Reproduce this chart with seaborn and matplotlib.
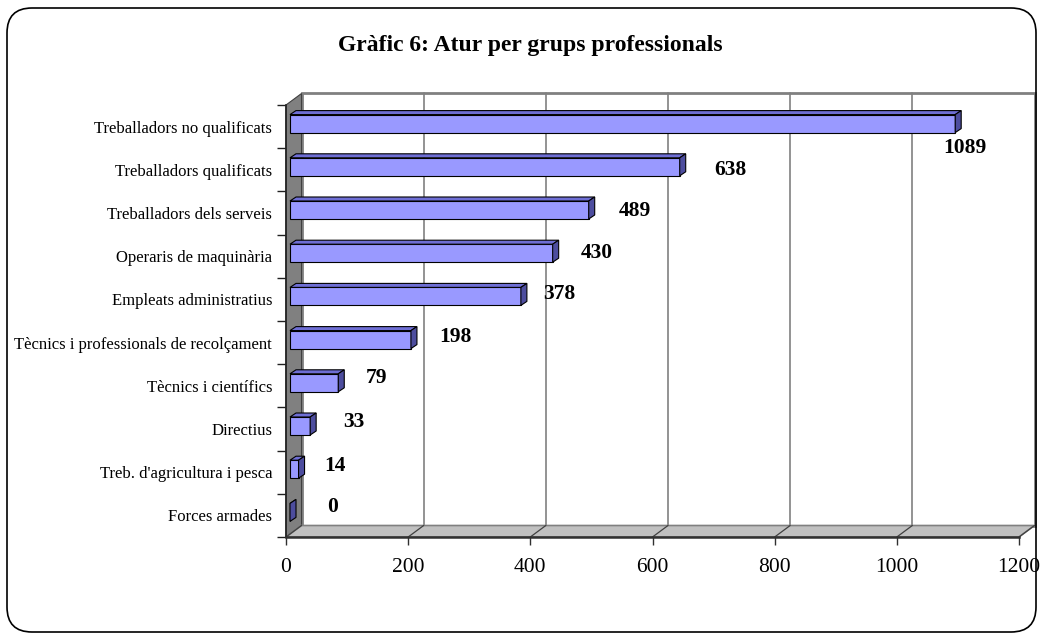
import numpy as np
import pandas as pd
import matplotlib
matplotlib.use('Agg')
import matplotlib.pyplot as plt
from matplotlib.patches import Polygon, FancyBboxPatch
import seaborn as sns

# chart data (top to bottom)
categories = ['Treballadors no qualificats', 'Treballadors qualificats',
              'Treballadors dels serveis', 'Operaris de maquinària',
              'Empleats administratius', 'Tècnics i professionals de recolçament',
              'Tècnics i científics', 'Directius', "Treb. d'agricultura i pesca",
              'Forces armades']
values = [1089, 638, 489, 430, 378, 198, 79, 33, 14, 0]
x_ticks = [0, 200, 400, 600, 800, 1000, 1200]
title = 'Gràfic 6: Atur per grups professionals'

# label nudges in pixels (right, down), Excel-like placement
label_dx = [10, 51, 46, 44, 38, 44, 38, 44, 36, 43]
label_dy = [24, 3, 1, 0, -2, -3, -5, -4, -3, -5]

sns.set_style("white")
plt.rcParams['font.family'] = ['Liberation Serif', 'DejaVu Serif']
plt.rcParams['text.color'] = 'black'
plt.rcParams['xtick.color'] = 'black'
plt.rcParams['ytick.color'] = 'black'

W, H = 1040, 638
fig = plt.figure(figsize=(W / 100, H / 100), dpi=100)

# front plane of the plot area in pixels
px_left, px_right, px_top, px_bottom = 286, 1019, 105, 537
ax = fig.add_axes([px_left / W, (H - px_bottom) / H,
                   (px_right - px_left) / W, (px_bottom - px_top) / H])

n = len(categories)
xmax = x_ticks[-1]
ux = (px_right - px_left) / xmax      # px per value unit
uy = (px_bottom - px_top) / n         # px per category slot

# depth offsets (px -> data units)
wall_dx, wall_dy = 15.5 / ux, 11.5 / uy
bar_ox, bar_oy = 4 / ux, 3 / uy
bar_dx, bar_dy = 6 / ux, 4 / uy
bar_h = 18 / uy

df = pd.DataFrame({'Grup': categories, 'Aturats': values})
sns.barplot(data=df, x='Aturats', y='Grup', orient='h', color='#9999ff',
            saturation=1, edgecolor='black', linewidth=0.8, width=bar_h,
            errorbar=None, ax=ax, zorder=4)
bars = list(ax.patches)

ax.set_xlim(0, xmax)
ax.set_ylim(n - 0.5, -0.5)

top_y, bot_y = -0.5, n - 0.5

# back wall
back = Polygon([(wall_dx, top_y - wall_dy), (xmax + wall_dx, top_y - wall_dy),
                (xmax + wall_dx, bot_y - wall_dy), (wall_dx, bot_y - wall_dy)],
               closed=True, facecolor='white', edgecolor='#808080', lw=2,
               zorder=0.5, clip_on=False)
ax.add_patch(back)
for t in x_ticks[1:-1]:
    ax.plot([t + wall_dx, t + wall_dx], [top_y - wall_dy, bot_y - wall_dy],
            color='#808080', lw=1.2, zorder=0.6, clip_on=False)

# left wall
lwall = Polygon([(0, top_y), (wall_dx, top_y - wall_dy), (wall_dx, bot_y - wall_dy), (0, bot_y)],
                closed=True, facecolor='#808080', edgecolor='#404040', lw=0.8,
                zorder=1, clip_on=False)
ax.add_patch(lwall)

# floor
floor = Polygon([(0, bot_y), (wall_dx, bot_y - wall_dy), (xmax + wall_dx, bot_y - wall_dy), (xmax, bot_y)],
                closed=True, facecolor='#c0c0c0', edgecolor='#808080', lw=1.2,
                zorder=1, clip_on=False)
ax.add_patch(floor)
for t in x_ticks:
    ax.plot([t, t + wall_dx], [bot_y, bot_y - wall_dy], color='#404040', lw=0.9,
            zorder=1.1, clip_on=False)

# 3d faces of the bars
for p in bars:
    p.set_x(p.get_x() + bar_ox)
    p.set_y(p.get_y() - bar_oy)
    x0, y0 = p.get_x(), p.get_y()
    w, h = p.get_width(), p.get_height()
    top = Polygon([(x0, y0), (x0 + bar_dx, y0 - bar_dy), (x0 + w + bar_dx, y0 - bar_dy), (x0 + w, y0)],
                  closed=True, facecolor='#6e6ed4', edgecolor='black', lw=0.8, zorder=4)
    side = Polygon([(x0 + w, y0), (x0 + w + bar_dx, y0 - bar_dy),
                    (x0 + w + bar_dx, y0 + h - bar_dy), (x0 + w, y0 + h)],
                   closed=True, facecolor='#4d4d9e', edgecolor='black', lw=0.8, zorder=4)
    ax.add_patch(top)
    ax.add_patch(side)

# value labels
for i, v in enumerate(values):
    ax.annotate(str(v), xy=(v + bar_ox, i - bar_oy),
                xytext=(label_dx[i] * 0.72, -label_dy[i] * 0.72), textcoords='offset points',
                ha='center', va='center', fontsize=15.5, fontweight='bold',
                color='black', zorder=6)

# axes, ticks
for s in ['top', 'right']:
    ax.spines[s].set_visible(False)
ax.spines['left'].set_color('#202020')
ax.spines['left'].set_linewidth(1.2)
ax.spines['bottom'].set_color('#303030')
ax.spines['bottom'].set_linewidth(1.8)
ax.spines['left'].set_zorder(2)
ax.spines['bottom'].set_zorder(2)

ax.set_xticks(x_ticks)
ax.set_xticklabels([str(t) for t in x_ticks])
ax.set_yticks(np.arange(-0.5, n, 1), minor=True)
ax.tick_params(axis='x', which='major', direction='out', length=5.8, width=1,
               color='#303030', pad=9, labelsize=15.5, bottom=True)
ax.tick_params(axis='y', which='major', length=0, pad=10, labelsize=12)
ax.tick_params(axis='y', which='minor', direction='out', length=6.5, width=1,
               color='#202020', left=True)
ax.set_xlabel('')
ax.set_ylabel('')
ax.set_facecolor('none')

fig.text(530 / W, 1 - 46 / H, title, ha='center', va='center',
         fontsize=17, fontweight='bold', color='black')

frame = FancyBboxPatch((0.07, 0.06), 10.29, 6.24, boxstyle='round,pad=0,rounding_size=0.25',
                       transform=fig.dpi_scale_trans, facecolor='none',
                       edgecolor='black', lw=1.2)
fig.add_artist(frame)

fig.savefig('out.png', dpi=100)
